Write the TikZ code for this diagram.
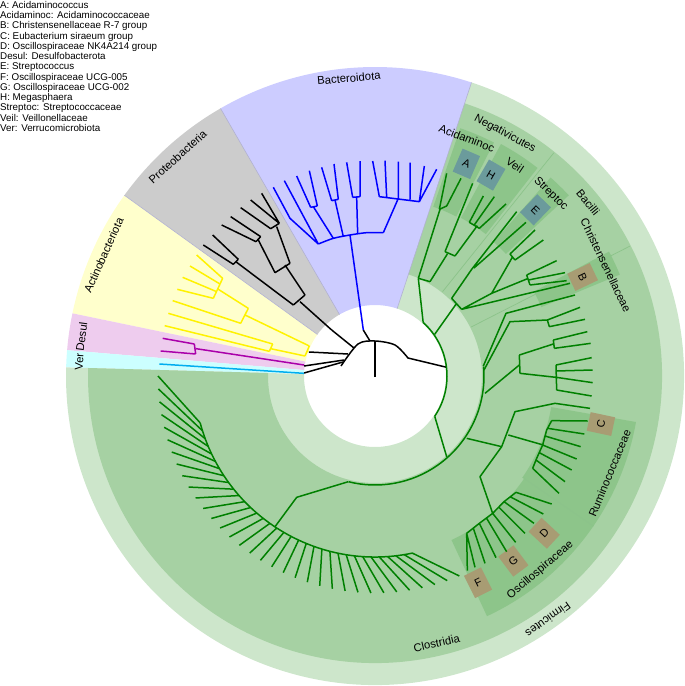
\documentclass[tikz,border=0pt]{standalone}
\usepackage{fontspec}
\setmainfont{Liberation Sans}
\usetikzlibrary{calc}
\definecolor{wblue}{HTML}{CCCCFF}
\definecolor{wgray}{HTML}{CCCCCC}
\definecolor{wyel}{HTML}{FFFFCC}
\definecolor{wpink}{HTML}{EECCEE}
\definecolor{wcyan}{HTML}{CCFFFF}
\definecolor{glight}{HTML}{CDE6CB}
\definecolor{gmed}{HTML}{A6D1A3}
\definecolor{gdark}{HTML}{8DC58A}
\definecolor{gline}{HTML}{8CC38A}
\definecolor{boxb}{HTML}{6B9B9C}
\definecolor{boxt}{HTML}{A89C73}
\definecolor{tgreen}{HTML}{008000}
\definecolor{tmag}{HTML}{AA00AA}
\definecolor{wline}{HTML}{B0B0D2}
\newcommand\sect[5]{\fill[#1] ($(C)+(-#2:#4)$) arc[start angle=-#2,end angle=-#3,radius=#4] -- ($(C)+(-#3:#5)$) arc[start angle=-#3,end angle=-#2,radius=#5] -- cycle;}
\newcommand\plab[5][lab]{\node[#1,rotate=#5] at ($(C)+(-#2:#3)$) {#4};}
\tikzset{
  tr/.style={line width=1.5pt,line join=round},
  lab/.style={font=\fontsize{11.3}{12}\selectfont,inner sep=0pt},
  bx/.style={font=\fontsize{11}{12}\selectfont,minimum width=19pt,minimum height=25pt,inner sep=0pt},
}
\begin{document}
\begin{tikzpicture}[x=1pt,y=-1pt]
\useasboundingbox (0,0) rectangle (685,686);
\coordinate (C) at (375,376);
% phylum wedges
\sect{wblue}{71.8}{120}{71}{309}
\sect{wgray}{120}{144.2}{71}{309}
\sect{wyel}{144.2}{168.3}{71}{309}
\sect{wpink}{168.3}{175.2}{71}{309}
\sect{wcyan}{175.2}{178.4}{71}{309}
% Firmicutes
\sect{glight}{-181.6}{71.8}{71}{309}
\sect{gmed}{-181.6}{71.8}{107}{287}
% subclade patches
\sect{gdark}{63}{71}{179}{262}
\sect{gdark}{52}{61.5}{180}{264}
\sect{gdark}{43}{48.5}{179}{265}
\sect{gdark}{22.5}{28}{180}{265}
\sect{gdark}{-34.5}{-10}{179}{265}
\sect{gdark}{-65}{-34.5}{181}{265}
\foreach \a in {51.3,27}{\draw[gline,line width=0.7pt] ($(C)+(-\a:108)$) -- ($(C)+(-\a:286)$);}
\draw[gline,line width=0.7pt] ($(C)+(34.5:179)$) -- ($(C)+(34.5:265)$);
\foreach \a in {120,144.2,71.8}{\draw[wline,line width=0.6pt] ($(C)+(-\a:71)$) -- ($(C)+(-\a:309)$);}

% labels
\plab{95}{299}{Bacteroidota}{5}
\plab{132}{295}{Proteobacteria}{42}
\plab{156}{297}{Actinobacteriota}{66}
\plab{172.4}{296}{Desul}{82.4}
\plab{177.2}{296}{Ver}{87}
\plab{61.8}{275}{Negativicutes}{-28.2}
\plab{68.9}{255}{Acidaminoc}{-21.1}
\plab{56.4}{253}{Veil}{-33.6}
\plab{46}{253}{Streptoc}{-44}
\plab{39.2}{275}{Bacilli}{-50.8}
\plab{25.6}{256}{Christensenellaceae}{-64.4}
\plab{-22.5}{254}{Ruminococcaceae}{67.5}
\plab{-49.6}{255}{Oscillospiraceae}{40.4}
\plab{-77}{274}{Clostridia}{13}
\plab{-54.6}{299}{Firmicutes}{-144.6}
% boxes
\plab[bx,fill=boxb]{66.7}{231}{A}{-23.3}
\plab[bx,fill=boxb]{60}{232}{H}{-30}
\plab[bx,fill=boxb]{46}{231}{E}{-44}
\plab[bx,fill=boxt]{25.5}{230}{B}{-64.5}
\plab[bx,fill=boxt]{-12}{231}{C}{78}
\plab[bx,fill=boxt]{-42.9}{231}{D}{47.1}
\plab[bx,fill=boxt]{-53.2}{231}{G}{36.8}
\plab[bx,fill=boxt]{-63.5}{231}{F}{26.5}

% legend
\node[anchor=north west,align=left,inner sep=0pt,font=\fontsize{9.8}{10.25}\selectfont] at (0,1) {A: Acidaminococcus\\Acidaminoc: Acidaminococcaceae\\B: Christensenellaceae R-7 group\\C: Eubacterium siraeum group\\D: Oscillospiraceae NK4A214 group\\Desul: Desulfobacterota\\E: Streptococcus\\F: Oscillospiraceae UCG-005\\G: Oscillospiraceae UCG-002\\H: Megasphaera\\Streptoc: Streptococcaceae\\Veil: Veillonellaceae\\Ver: Verrucomicrobiota};

% black root
\draw[tr] (375,377) -- (375,341);
\draw[tr] plot[smooth] coordinates {(341,366) (358,344) (375,341) (395,345) (408,358)} -- (446.7,367.3);
\draw[tr] (343,362) -- (304,373); \draw[tr] (344,360) -- (304,366);
\draw[tr] (348,354) -- (309,352); \draw[tr] (354,348) -- (331.7,330);
\draw[tr] (370,341) -- (363.3,330);
% gray and blue trees (zoom coords)
\begin{scope}[shift={(180,100)},scale=1/3]
\draw[tr] (455,690)--(360,605) (340,615)--(375,585) (340,615)--(170,487) (160,493)--(175,478)
 (160,493)--(70,435) (175,478)--(98,405) (375,585)--(315,495) (285,518)--(330,490)
 (285,518)--(235,420) (228,425)--(242,410) (228,425)--(125,375) (242,410)--(152,350)
 (330,490)--(290,380) (272,386)--(298,370) (272,386)--(182,323) (298,370)--(212,300) (298,370)--(245,280);
\draw[tr,blue] (550,690)--(510,405);
\draw[tr,blue] plot[smooth] coordinates {(415,432) (460,415) (510,405) (560,398) (610,398)};
\draw[tr,blue] (415,432)--(330,355)--(280,262) (415,432)--(313,242)
 (460,415)--(400,320) (392,322)--(412,318) (392,322)--(350,228) (412,318)--(388,212)
 (490,410)--(465,300) (455,302)--(475,298) (455,302)--(425,202) (475,298)--(462,192)
 (533,400)--(530,292) (518,292)--(540,290) (518,292)--(500,187) (540,290)--(540,183)
 (610,398)--(655,295) (598,290)--(718,305) (598,290)--(578,183) (620,292)--(615,182)
 (655,295)--(655,185) (690,298)--(690,188) (718,305)--(733,198) (718,305)--(770,208);
\end{scope}
% yellow, pink, cyan (zoom3 coords)
\begin{scope}[shift={(0,60)},scale=1/3]
\draw[tr,yellow] (925,875)--(920,872) (915,888)--(928,858)
 (915,888)--(812,866) (808,874)--(818,852) (808,874)--(494,797) (818,852)--(505,760)
 (928,858)--(735,765) (722,790)--(745,745) (722,790)--(518,722)
 (745,745)--(655,688) (640,715)--(668,655) (640,715)--(532,688) (650,695)--(548,652)
 (660,672)--(570,618) (668,655)--(590,585);
\draw[tr,tmag] (912,915)--(588,866) (583,852)--(587,882) (583,852)--(488,835) (587,882)--(482,873);
\draw[tr,cyan] (912,940)--(478,912);
\end{scope}

% green tree
\draw[tr,tgreen] ($(C)+(-48:72)$) arc[start angle=-48,end angle=34,radius=72];
\draw[tr,tgreen] ($(C)+(-5:109)$) arc[start angle=-5,end angle=104,radius=109];
\draw[tr,tgreen] ($(C)+(34:72)$) -- ($(C)+(48.4:108)$);
\draw[tr,tgreen] ($(C)+(-48:72)$) -- (418.3,278.3);
% Clostridia comb
\draw[tr,tgreen] (348.3,481.7) -- (296.7,497.3) -- (275,526.7);
\draw[tr,tgreen] ($(C)+(-195:181)$) arc[start angle=-195,end angle=-282,radius=181];
\foreach \i in {0,...,33}{
  \pgfmathsetmacro\t{180+\i*3.42}
  \pgfmathsetmacro\s{min(195+(\t-180)*0.77,282)}
  \draw[tr,tgreen] ($(C)+(-\s:181)$) -- ($(C)+(-\t:217)$);
}
% upper part (zoom2 coords)
\begin{scope}[shift={(400,60)},scale=1/3]
\draw[tr,tgreen] (55,655)--(90,665) (55,655)--(120,448) (118,448)--(140,438) (118,448)--(140,340) (140,438)--(183,355)
 (90,665)--(142,582) (135,575)--(165,588) (135,575)--(218,370) (165,588)--(232,497) (208,487)--(238,505)
 (208,487)--(250,408) (222,496)--(283,410) (238,505)--(318,432);
\draw[tr,tgreen] (104,823)--(170,730) (155,715)--(185,748) (155,715)--(215,628)
 (215,628)--(350,455) (222,624)--(378,487)
 (185,748)--(275,700) (275,700)--(338,590) (275,700)--(385,655)
 (330,582)--(345,600) (330,582)--(405,510) (345,600)--(430,540)
 (380,645)--(390,675) (380,645)--(470,602) (385,660)--(495,638) (390,675)--(500,662)
 (185,748)--(510,670);
\end{scope}
% middle (zoom8 coords)
\begin{scope}[shift={(400,260)},scale=1/3]
\draw[tr,tgreen] (250,318)--(318,160)--(525,105)
 (252,330)--(330,185)--(442,180) (442,180)--(448,200) (442,180)--(540,142) (448,200)--(555,178)
 (255,400)--(358,315) (358,285)--(360,340) (358,285)--(460,252) (460,240)--(463,265)
 (460,240)--(562,215) (463,265)--(572,250) (360,340)--(468,352) (468,315)--(470,390)
 (468,315)--(575,293) (468,333)--(578,330) (469,352)--(578,368) (470,390)--(575,408)
 (200,535)--(305,560)--(345,455)--(465,430)--(570,445)
 (325,525)--(430,555);
\end{scope}
% lower right (zoom5 coords)
\begin{scope}[shift={(360,330)},scale=1/3]
\draw[tr,tgreen] (575,272)--(560,300)--(548,345)--(530,385)--(518,415)
 (575,272)--(683,273) (563,295)--(673,312) (555,318)--(662,350) (548,345)--(650,387)
 (538,368)--(635,420) (528,390)--(615,455) (518,415)--(597,490)
 (425,350)--(360,440)--(398,550)
 (468,487)--(432,515)--(398,550)--(358,580)--(320,610)
 (468,487)--(575,522) (450,500)--(550,552) (432,515)--(522,580) (415,530)--(495,610)
 (398,550)--(467,637) (380,565)--(440,665) (358,580)--(408,683) (340,595)--(375,700)
 (320,610)--(345,712) (320,610)--(322,722);
\end{scope}
\end{tikzpicture}
\end{document}
